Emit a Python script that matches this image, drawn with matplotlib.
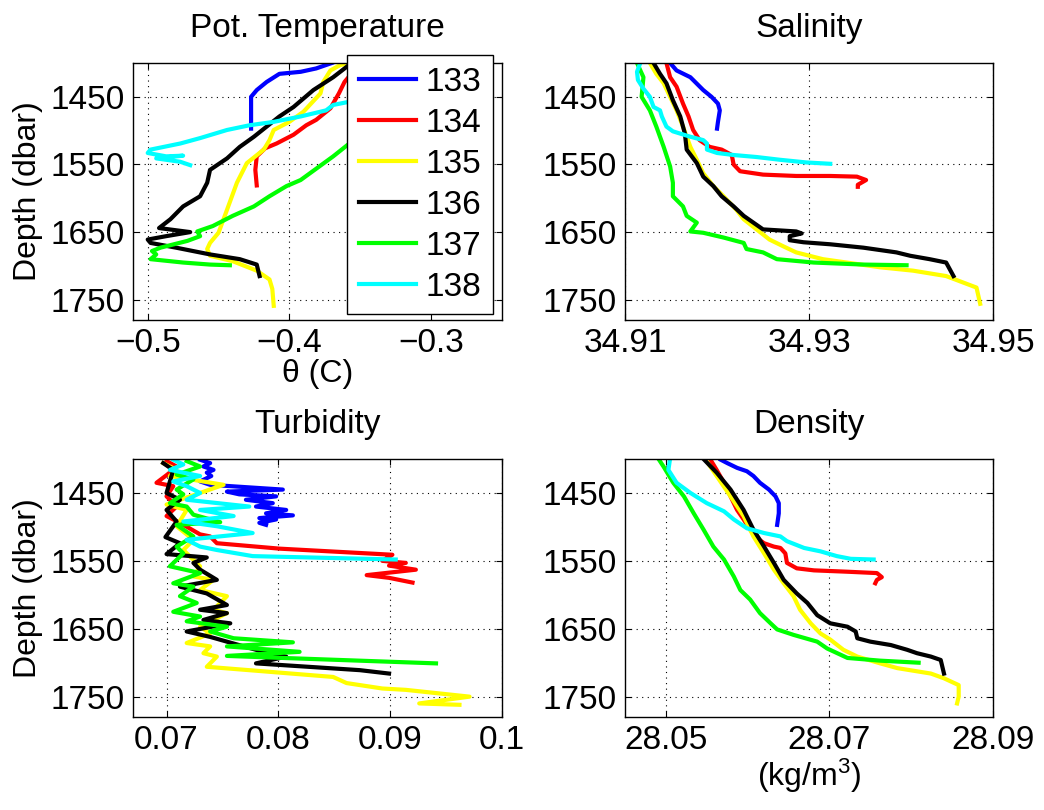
import matplotlib
matplotlib.use('Agg')
import matplotlib.pyplot as plt

plt.rcParams['font.family'] = ['Liberation Sans', 'DejaVu Sans']
plt.rcParams['mathtext.fontset'] = 'custom'
plt.rcParams['mathtext.rm'] = 'Liberation Sans'
plt.rcParams['mathtext.it'] = 'Liberation Sans'

casts = ['133', '134', '135', '136', '137', '138']
colors = ['#0000ff', '#ff0000', '#ffff00', '#000000', '#00ff00', '#00ffff']

# --- Pot. temperature (C) vs depth (dbar)
temp_133_v = [-0.370, -0.381, -0.392, -0.407, -0.416, -0.423, -0.427, -0.427, -0.427, -0.427]
temp_133_d = [1400, 1408, 1413, 1416, 1428, 1440, 1450, 1460, 1479, 1497]
temp_134_v = [-0.345, -0.357, -0.361, -0.365, -0.371, -0.381, -0.388, -0.397, -0.409, -0.417, -0.423, -0.424, -0.423]
temp_134_d = [1400, 1418, 1428, 1445, 1467, 1484, 1492, 1506, 1519, 1526, 1538, 1558, 1581]
temp_135_v = [-0.357, -0.364, -0.371, -0.376, -0.378, -0.390, -0.400, -0.411, -0.414, -0.418, -0.430, -0.437,
              -0.444, -0.450, -0.456, -0.458, -0.456, -0.440, -0.423, -0.414, -0.412, -0.411]
temp_135_d = [1400, 1403, 1411, 1428, 1445, 1472, 1487, 1499, 1514, 1528, 1548, 1577,
              1617, 1651, 1666, 1675, 1685, 1693, 1707, 1720, 1734, 1759]
temp_136_v = [-0.356, -0.369, -0.383, -0.397, -0.407, -0.416, -0.425, -0.435, -0.444, -0.456, -0.458, -0.463,
              -0.475, -0.484, -0.492, -0.470, -0.487, -0.500, -0.498, -0.480, -0.456, -0.435, -0.423, -0.421]
temp_136_d = [1400, 1421, 1440, 1465, 1479, 1494, 1509, 1524, 1541, 1558, 1577, 1597,
              1612, 1631, 1644, 1650, 1656, 1661, 1666, 1673, 1683, 1690, 1698, 1715]
temp_137_v = [-0.300, -0.330, -0.357, -0.369, -0.392, -0.402, -0.414, -0.425, -0.440, -0.454, -0.465, -0.463,
              -0.472, -0.491, -0.497, -0.494, -0.498, -0.475, -0.456, -0.442]
temp_137_d = [1400, 1460, 1518, 1538, 1573, 1582, 1597, 1612, 1626, 1641, 1649, 1656,
              1663, 1673, 1678, 1683, 1690, 1695, 1698, 1699]
temp_138_v = [-0.320, -0.335, -0.350, -0.357, -0.369, -0.374, -0.392, -0.411, -0.428, -0.444, -0.463, -0.477,
              -0.498, -0.500, -0.487, -0.475, -0.494, -0.477, -0.470]
temp_138_d = [1400, 1440, 1455, 1457, 1462, 1470, 1479, 1487, 1492, 1499, 1511, 1519,
              1528, 1533, 1538, 1537, 1541, 1546, 1551]

# --- Salinity
sal_133_v = [34.9149, 34.9156, 34.9171, 34.9185, 34.9194, 34.9201, 34.9203, 34.9201, 34.9200]
sal_133_d = [1400, 1411, 1421, 1440, 1450, 1460, 1470, 1487, 1497]
sal_134_v = [34.9145, 34.9149, 34.9156, 34.9163, 34.9169, 34.9174, 34.9181, 34.9192, 34.9205, 34.9216,
             34.9218, 34.9225, 34.9250, 34.9286, 34.9323, 34.9352, 34.9362, 34.9353, 34.9353]
sal_134_d = [1400, 1421, 1435, 1460, 1479, 1499, 1514, 1524, 1528, 1536,
             1550, 1560, 1565, 1567, 1567, 1568, 1573, 1580, 1583]
sal_135_v = [34.9127, 34.9134, 34.9142, 34.9149, 34.9156, 34.9163, 34.9171, 34.9178, 34.9185, 34.9196,
             34.9207, 34.9221, 34.9229, 34.9243, 34.9257, 34.9272, 34.9286, 34.9315, 34.9341, 34.9377,
             34.9413, 34.9449, 34.9482, 34.9484, 34.9486]
sal_135_d = [1400, 1416, 1430, 1450, 1470, 1494, 1524, 1543, 1563, 1582,
             1597, 1617, 1631, 1646, 1661, 1671, 1680, 1690, 1695, 1702,
             1707, 1715, 1732, 1744, 1756]
sal_136_v = [34.9131, 34.9138, 34.9145, 34.9152, 34.9160, 34.9165, 34.9167, 34.9178, 34.9185, 34.9196,
             34.9205, 34.9218, 34.9229, 34.9250, 34.9286, 34.9292, 34.9279, 34.9279, 34.9294, 34.9323,
             34.9359, 34.9395, 34.9410, 34.9431, 34.9449, 34.9453, 34.9457]
sal_136_d = [1400, 1416, 1430, 1455, 1479, 1504, 1528, 1548, 1568, 1582,
             1597, 1612, 1626, 1646, 1649, 1652, 1656, 1662, 1665, 1668,
             1673, 1680, 1685, 1690, 1695, 1705, 1715]
sal_137_v = [34.9113, 34.9120, 34.9118, 34.9127, 34.9134, 34.9142, 34.9149, 34.9152, 34.9152, 34.9163,
             34.9167, 34.9178, 34.9171, 34.9185, 34.9207, 34.9229, 34.9232, 34.9250, 34.9265, 34.9305,
             34.9359, 34.9406]
sal_137_d = [1400, 1421, 1450, 1470, 1494, 1524, 1553, 1577, 1597, 1612,
             1626, 1636, 1649, 1651, 1658, 1666, 1675, 1680, 1690, 1695,
             1698, 1699]
sal_138_v = [34.9116, 34.9113, 34.9114, 34.9120, 34.9127, 34.9131, 34.9138, 34.9140, 34.9145, 34.9152,
             34.9171, 34.9185, 34.9189, 34.9189, 34.9200, 34.9218, 34.9243, 34.9268, 34.9297, 34.9323]
sal_138_d = [1402, 1413, 1425, 1438, 1450, 1465, 1470, 1479, 1494, 1501,
             1509, 1514, 1519, 1528, 1533, 1536, 1539, 1543, 1547, 1549]

# --- Turbidity
turb_133_v = [0.0730, 0.0739, 0.0733, 0.0742, 0.0736, 0.0740, 0.0730, 0.0739, 0.0804, 0.0754, 0.0765,
              0.0798, 0.0771, 0.0795, 0.0780, 0.0807, 0.0789, 0.0813, 0.0783, 0.0798, 0.0783, 0.0789]
turb_133_d = [1401, 1406, 1411, 1416, 1420, 1425, 1433, 1438, 1445, 1448, 1452,
              1455, 1460, 1465, 1470, 1475, 1480, 1483, 1487, 1489, 1494, 1497]
turb_134_v = [0.0700, 0.0709, 0.0703, 0.0691, 0.0706, 0.0700, 0.0709, 0.0700, 0.0712, 0.0730, 0.0739,
              0.0745, 0.0801, 0.0902, 0.0893, 0.0914, 0.0899, 0.0923, 0.0879, 0.0899, 0.0920]
turb_134_d = [1403, 1411, 1420, 1435, 1440, 1455, 1470, 1484, 1494, 1511, 1514,
              1524, 1532, 1541, 1550, 1553, 1557, 1563, 1571, 1575, 1582]
turb_135_v = [0.0697, 0.0709, 0.0703, 0.0751, 0.0700, 0.0718, 0.0709, 0.0724, 0.0715, 0.0730, 0.0724,
              0.0742, 0.0730, 0.0754, 0.0742, 0.0754, 0.0730, 0.0739, 0.0718, 0.0739, 0.0733, 0.0745,
              0.0736, 0.0789, 0.0849, 0.0861, 0.0893, 0.0914, 0.0971, 0.0926, 0.0962]
turb_135_d = [1406, 1416, 1425, 1438, 1467, 1475, 1499, 1519, 1534, 1558, 1573,
              1578, 1593, 1602, 1622, 1627, 1647, 1657, 1671, 1676, 1686, 1691,
              1706, 1713, 1721, 1730, 1738, 1740, 1750, 1760, 1762]
turb_136_v = [0.0697, 0.0706, 0.0700, 0.0712, 0.0700, 0.0709, 0.0699, 0.0712, 0.0700, 0.0736, 0.0724,
              0.0730, 0.0745, 0.0712, 0.0736, 0.0754, 0.0730, 0.0754, 0.0733, 0.0757, 0.0718, 0.0739,
              0.0754, 0.0780, 0.0807, 0.0780, 0.0873, 0.0899]
turb_136_d = [1406, 1416, 1450, 1460, 1475, 1492, 1515, 1524, 1540, 1545, 1553,
              1563, 1578, 1588, 1598, 1615, 1622, 1627, 1637, 1642, 1654, 1662,
              1669, 1681, 1691, 1701, 1711, 1716]
turb_137_v = [0.0718, 0.0730, 0.0709, 0.0724, 0.0709, 0.0715, 0.0703, 0.0718, 0.0724, 0.0748, 0.0709,
              0.0724, 0.0709, 0.0715, 0.0703, 0.0730, 0.0706, 0.0724, 0.0712, 0.0727, 0.0706, 0.0730,
              0.0718, 0.0754, 0.0739, 0.0760, 0.0813, 0.0754, 0.0819, 0.0754, 0.0804, 0.0941]
turb_137_d = [1403, 1411, 1423, 1430, 1445, 1452, 1465, 1470, 1482, 1493, 1497,
              1514, 1529, 1539, 1558, 1568, 1583, 1588, 1602, 1612, 1625, 1632,
              1639, 1647, 1654, 1664, 1670, 1676, 1684, 1690, 1693, 1701]
turb_138_v = [0.0706, 0.0715, 0.0703, 0.0730, 0.0706, 0.0718, 0.0730, 0.0718, 0.0774, 0.0730,
              0.0760, 0.0715, 0.0745, 0.0777, 0.0718, 0.0730, 0.0745, 0.0777, 0.0905]
turb_138_d = [1401, 1408, 1416, 1425, 1433, 1440, 1450, 1460, 1470, 1475,
              1484, 1492, 1499, 1509, 1519, 1529, 1534, 1543, 1548]

# --- Density (kg/m3)
dens_133_v = [28.0567, 28.0575, 28.0587, 28.0599, 28.0607, 28.0615, 28.0626, 28.0634, 28.0638, 28.0638, 28.0636]
dens_133_d = [1401, 1406, 1413, 1418, 1425, 1435, 1445, 1455, 1465, 1480, 1497]
dens_134_v = [28.0554, 28.0562, 28.0571, 28.0579, 28.0587, 28.0595, 28.0603, 28.0611, 28.0620, 28.0632,
              28.0640, 28.0646, 28.0648, 28.0660, 28.0681, 28.0722, 28.0758, 28.0764, 28.0758, 28.0756]
dens_134_d = [1400, 1416, 1435, 1455, 1475, 1489, 1504, 1516, 1524, 1529,
              1531, 1539, 1553, 1561, 1564, 1566, 1568, 1574, 1578, 1583]
dens_135_v = [28.0548, 28.0562, 28.0579, 28.0595, 28.0607, 28.0620, 28.0632, 28.0644, 28.0656, 28.0664,
              28.0677, 28.0689, 28.0701, 28.0717, 28.0734, 28.0762, 28.0783, 28.0824, 28.0840, 28.0858,
              28.0858, 28.0856]
dens_135_d = [1400, 1425, 1455, 1484, 1514, 1539, 1563, 1583, 1602, 1622,
              1642, 1657, 1666, 1681, 1691, 1701, 1708, 1716, 1723, 1733,
              1750, 1760]
dens_136_v = [28.0546, 28.0562, 28.0579, 28.0595, 28.0607, 28.0620, 28.0632, 28.0644, 28.0660, 28.0673,
              28.0685, 28.0701, 28.0722, 28.0732, 28.0734, 28.0750, 28.0775, 28.0795, 28.0807, 28.0824,
              28.0836, 28.0840]
dens_136_d = [1400, 1420, 1445, 1475, 1504, 1529, 1553, 1578, 1598, 1612,
              1630, 1642, 1647, 1654, 1664, 1669, 1674, 1681, 1686, 1691,
              1696, 1716]
dens_137_v = [28.0491, 28.0497, 28.0509, 28.0522, 28.0534, 28.0546, 28.0558, 28.0571, 28.0583, 28.0591,
              28.0603, 28.0615, 28.0628, 28.0636, 28.0656, 28.0685, 28.0697, 28.0722, 28.0762, 28.0809]
dens_137_d = [1400, 1411, 1435, 1455, 1480, 1504, 1529, 1548, 1573, 1593,
              1607, 1627, 1642, 1651, 1659, 1669, 1679, 1693, 1697, 1700]
dens_138_v = [28.0505, 28.0503, 28.0513, 28.0530, 28.0550, 28.0571, 28.0583, 28.0599, 28.0620, 28.0640,
              28.0648, 28.0669, 28.0689, 28.0709, 28.0726, 28.0754]
dens_138_d = [1400, 1416, 1435, 1450, 1465, 1477, 1489, 1502, 1509, 1514,
              1521, 1531, 1536, 1543, 1547, 1548]

temp = [(temp_133_v, temp_133_d), (temp_134_v, temp_134_d), (temp_135_v, temp_135_d),
        (temp_136_v, temp_136_d), (temp_137_v, temp_137_d), (temp_138_v, temp_138_d)]
sal = [(sal_133_v, sal_133_d), (sal_134_v, sal_134_d), (sal_135_v, sal_135_d),
       (sal_136_v, sal_136_d), (sal_137_v, sal_137_d), (sal_138_v, sal_138_d)]
turb = [(turb_133_v, turb_133_d), (turb_134_v, turb_134_d), (turb_135_v, turb_135_d),
        (turb_136_v, turb_136_d), (turb_137_v, turb_137_d), (turb_138_v, turb_138_d)]
dens = [(dens_133_v, dens_133_d), (dens_134_v, dens_134_d), (dens_135_v, dens_135_d),
        (dens_136_v, dens_136_d), (dens_137_v, dens_137_d), (dens_138_v, dens_138_d)]

depth_ticks = [1450, 1550, 1650, 1750]

fig = plt.figure(figsize=(10.44, 8.10), dpi=100)
ax1 = fig.add_axes([0.1274, 0.6049, 0.3534, 0.3173])
ax2 = fig.add_axes([0.5987, 0.6049, 0.3525, 0.3173])
ax3 = fig.add_axes([0.1274, 0.1148, 0.3534, 0.3185])
ax4 = fig.add_axes([0.5987, 0.1148, 0.3525, 0.3185])

panels = [
    (ax1, temp, 'Pot. Temperature', (-0.5104, -0.2498), [-0.5, -0.4, -0.3], ['\u22120.5', '\u22120.4', '\u22120.3'], '\u03b8 (C)'),
    (ax2, sal, 'Salinity', (34.91, 34.95), [34.91, 34.93, 34.95], ['34.91', '34.93', '34.95'], None),
    (ax3, turb, 'Turbidity', (0.067, 0.1), [0.07, 0.08, 0.09, 0.1], ['0.07', '0.08', '0.09', '0.1'], None),
    (ax4, dens, 'Density', (28.045, 28.09), [28.05, 28.07, 28.09], ['28.05', '28.07', '28.09'], '(kg/m$^3$)'),
]

lines = []
for ax, data, title, xlim, xt, xtl, xlabel in panels:
    for (v, d), c, name in zip(data, colors, casts):
        ln, = ax.plot(v, d, color=c, lw=3.0, solid_joinstyle='round', label=name)
        if ax is ax1:
            lines.append(ln)
    ax.set_xlim(*xlim)
    ax.set_ylim(1780, 1400)
    ax.set_xticks(xt)
    ax.set_xticklabels(xtl)
    ax.set_yticks(depth_ticks)
    ax.grid(True, color='k', linestyle=(0, (1, 4)), linewidth=0.8)
    ax.tick_params(direction='in', length=4, width=0.8, top=True, right=True,
                   labelsize=24, pad=6)
    for s in ax.spines.values():
        s.set_linewidth(1.0)
    ax.set_title(title, fontsize=24, pad=19)
    if xlabel:
        ax.set_xlabel(xlabel, fontsize=23, labelpad=0)

ax1.set_ylabel('Depth (dbar)', fontsize=23, labelpad=5)
ax3.set_ylabel('Depth (dbar)', fontsize=23, labelpad=5)

leg = ax1.legend(handles=lines, loc='upper right', bbox_to_anchor=(0.4722, 0.932),
                 bbox_transform=fig.transFigure, borderaxespad=0, fontsize=24,
                 handlelength=1.7, handletextpad=0.3, labelspacing=0.3,
                 borderpad=0.35, fancybox=False, framealpha=1, edgecolor='k')
leg.get_frame().set_linewidth(1.0)

fig.savefig('out.png', dpi=100)
